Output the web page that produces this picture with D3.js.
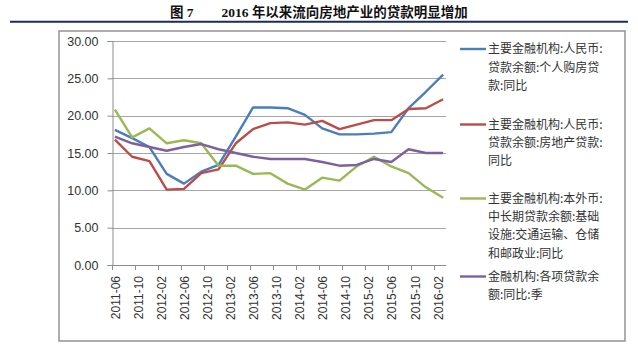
<!DOCTYPE html>
<html>
<head>
<meta charset="utf-8">
<script src="https://cdn.jsdelivr.net/npm/d3@7"></script>
<style>
  html, body { margin: 0; padding: 0; background: #fff; }
  svg { display: block; }
</style>
</head>
<body>
<svg id="chart" width="638" height="345"></svg>
<script>
// Monthly category axis, from 2011-06 through 2016-03
const months = [];
for (let y = 2011, m = 6; !(y === 2016 && m === 4); ) {
  months.push(`${y}-${String(m).padStart(2, "0")}`);
  m++; if (m > 12) { m = 1; y++; }
}

// Quarterly observation dates
const dates = [
  "2011-06", "2011-09", "2011-12", "2012-03", "2012-06", "2012-09", "2012-12",
  "2013-03", "2013-06", "2013-09", "2013-12", "2014-03", "2014-06", "2014-09",
  "2014-12", "2015-03", "2015-06", "2015-09", "2015-12", "2016-03"
];

// Year-on-year growth, %
const housingLoans = [18.1, 17.0, 15.8, 12.2, 10.9, 12.5, 13.4, 17.2, 21.1, 21.1,
                      21.0, 20.1, 18.3, 17.5, 17.5, 17.6, 17.8, 21.0, 23.2, 25.5];
const realEstateLoans = [16.8, 14.5, 13.9, 10.1, 10.2, 12.3, 12.8, 16.3, 18.2, 19.0,
                         19.1, 18.8, 19.3, 18.2, 18.8, 19.4, 19.4, 20.9, 21.0, 22.2];
const infraLoans = [20.8, 17.1, 18.3, 16.3, 16.7, 16.3, 13.3, 13.3, 12.2, 12.3,
                    10.9, 10.1, 11.7, 11.3, 13.2, 14.5, 13.2, 12.3, 10.4, 9.0];
const totalLoans = [17.2, 16.3, 15.8, 15.3, 15.8, 16.2, 15.5, 15.0, 14.5, 14.2,
                    14.2, 14.2, 13.8, 13.3, 13.4, 14.2, 13.8, 15.5, 15.0, 15.0];

const yTicks = [0, 5, 10, 15, 20, 25, 30];
const xTickLabels = months.filter((d, i) => i % 4 === 0);

const seriesNames = [
  ["主要金融机构:人民币:", "贷款余额:个人购房贷", "款:同比"],
  ["主要金融机构:人民币:", "贷款余额:房地产贷款:", "同比"],
  ["主要金融机构:本外币:", "中长期贷款余额:基础", "设施:交通运输、仓储", "和邮政业:同比"],
  ["金融机构:各项贷款余", "额:同比:季"]
];
const seriesValues = [housingLoans, realEstateLoans, infraLoans, totalLoans];
const seriesColors = ["#4a7ebb", "#be4b48", "#98b954", "#7d60a0"];

const svg = d3.select("#chart");

// Figure title and rule
svg.append("text")
  .attr("x", 170).attr("y", 17)
  .attr("font-family", "'Liberation Serif', 'Noto Sans CJK SC', serif")
  .attr("font-weight", "bold").attr("font-size", 13.5).attr("fill", "#111")
  .text("图 7");
svg.append("text")
  .attr("x", 221.5).attr("y", 17)
  .attr("font-family", "'Liberation Serif', 'Noto Sans CJK SC', serif")
  .attr("font-weight", "bold").attr("font-size", 13.5).attr("fill", "#111")
  .text("2016 年以来流向房地产业的贷款明显增加");
svg.append("line")
  .attr("x1", 10).attr("x2", 628).attr("y1", 21.7).attr("y2", 21.7)
  .attr("stroke", "#1c2a5c").attr("stroke-width", 2);

// Chart frame
svg.append("rect")
  .attr("x", 59).attr("y", 31).attr("width", 566).attr("height", 310)
  .attr("fill", "#fff").attr("stroke", "#9a9a9a").attr("stroke-width", 1.6);

const plot = { left: 112, right: 446, top: 41, bottom: 265 };

const x = d3.scaleBand().domain(months).range([plot.left, plot.right]).padding(0);
const y = d3.scaleLinear().domain([0, 30]).range([plot.bottom, plot.top]);
const cx = d => x(d) + x.bandwidth() / 2;

// Horizontal gridlines
svg.append("g").selectAll("line")
  .data(yTicks.filter(t => t > 0))
  .join("line")
  .attr("x1", plot.left).attr("x2", plot.right)
  .attr("y1", d => Math.round(y(d)) + 0.5).attr("y2", d => Math.round(y(d)) + 0.5)
  .attr("stroke", "#a6a6a6").attr("stroke-width", 1);

// Y axis
const yAxis = svg.append("g")
  .attr("transform", `translate(${plot.left + 0.5},0)`)
  .call(d3.axisLeft(y).tickValues(yTicks).tickFormat(d3.format(".2f")).tickSize(5).tickPadding(9));
yAxis.select(".domain").attr("stroke", "#8c8c8c");
yAxis.selectAll(".tick line").attr("stroke", "#8c8c8c");
yAxis.selectAll("text")
  .attr("font-family", "'Liberation Sans', Arial, sans-serif")
  .attr("font-size", 12.5).attr("fill", "#333");

// X axis: ticks between every fourth month, labels on the category
const xAxisG = svg.append("g");
xAxisG.append("line")
  .attr("x1", plot.left).attr("x2", plot.right)
  .attr("y1", plot.bottom + 0.5).attr("y2", plot.bottom + 0.5)
  .attr("stroke", "#8c8c8c");
xAxisG.selectAll(".xtick")
  .data(xTickLabels)
  .join("line")
  .attr("class", "xtick")
  .attr("x1", d => Math.round(x(d)) + 0.5).attr("x2", d => Math.round(x(d)) + 0.5)
  .attr("y1", plot.bottom).attr("y2", plot.bottom + 5)
  .attr("stroke", "#8c8c8c");
xAxisG.selectAll(".xlabel")
  .data(xTickLabels)
  .join("text")
  .attr("class", "xlabel")
  .attr("transform", d => `translate(${cx(d) + 1},276) rotate(-90)`)
  .attr("text-anchor", "end").attr("dy", "0.35em")
  .attr("font-family", "'Liberation Sans', Arial, sans-serif")
  .attr("font-size", 12).attr("fill", "#333")
  .text(d => d);

// Series lines
const line = d3.line()
  .x((d, i) => cx(dates[i]))
  .y(d => y(d));
svg.append("g").selectAll("path")
  .data(seriesValues)
  .join("path")
  .attr("d", d => line(d))
  .attr("fill", "none")
  .attr("stroke", (d, i) => seriesColors[i])
  .attr("stroke-width", 2.4)
  .attr("stroke-linejoin", "round");

// Legend
const legendTop = [49, 124.5, 198.5, 276.5];
const lineH = 18.3;
const legend = svg.append("g").selectAll("g")
  .data(seriesNames)
  .join("g")
  .attr("transform", (d, i) => `translate(0,${legendTop[i]})`);
legend.append("line")
  .attr("x1", 460).attr("x2", 486).attr("y1", 0).attr("y2", 0)
  .attr("stroke", (d, i) => seriesColors[i]).attr("stroke-width", 2.4);
legend.each(function (lines) {
  const t = d3.select(this).append("text")
    .attr("x", 488).attr("y", 0)
    .attr("font-family", "'Noto Sans CJK SC', sans-serif")
    .attr("font-size", 12).attr("fill", "#333");
  lines.forEach((s, k) => {
    t.append("tspan").attr("x", 488).attr("y", k * lineH).attr("dy", "0.36em").text(s);
  });
});
</script>
</body>
</html>
